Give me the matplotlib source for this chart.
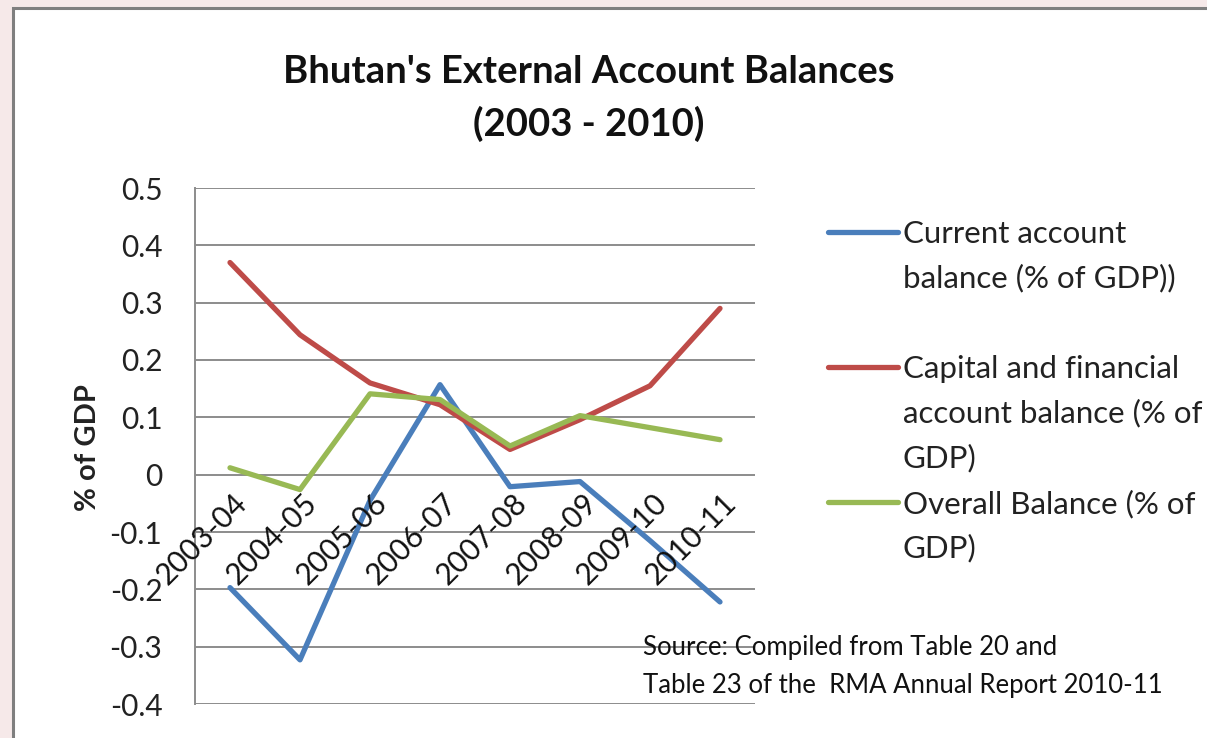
import matplotlib
matplotlib.use("Agg")
import matplotlib.pyplot as plt
from matplotlib.lines import Line2D
from matplotlib.patches import Rectangle
from matplotlib import transforms

# data, share of GDP
periods = ["2003-04", "2004-05", "2005-06", "2006-07",
           "2007-08", "2008-09", "2009-10", "2010-11"]
current_account = [-0.197, -0.323, -0.045, 0.157, -0.021, -0.012, -0.115, -0.222]
capital_financial = [0.370, 0.244, 0.160, 0.122, 0.044, 0.096, 0.155, 0.290]
overall_balance = [0.012, -0.026, 0.141, 0.131, 0.050, 0.103, 0.082, 0.061]

series_labels = [["Current account", "balance (% of GDP))"],
                 ["Capital and financial", "account balance (% of", "GDP)"],
                 ["Overall Balance (% of", "GDP)"]]
yticks = [0.5, 0.4, 0.3, 0.2, 0.1, 0, -0.1, -0.2, -0.3, -0.4]
ytick_labels = ["0.5", "0.4", "0.3", "0.2", "0.1", "0", "-0.1", "-0.2", "-0.3", "-0.4"]

BLUE = "#4a7ebb"
RED = "#be4b48"
GREEN = "#98b954"
GRID = "#8c8c8c"

plt.rcParams["font.family"] = ["Lato", "DejaVu Sans"]

W, H = 1207, 738
fig = plt.figure(figsize=(W / 100, H / 100), dpi=100)
fig.patch.set_facecolor("#f6e9e9")

# white chart area with grey frame
fig.add_artist(Rectangle((13 / W, -0.05), 1.2, 1 - 8 / H + 0.05,
                         transform=fig.transFigure, facecolor="white",
                         edgecolor="#7f7f7f", linewidth=2.2, zorder=0))

ax = fig.add_axes([195 / W, 1 - 704 / H, (755 - 195) / W, (704 - 188) / H])
ax.set_facecolor("none")

x = list(range(len(periods)))
ax.plot(x, current_account, color=BLUE, lw=3.8, solid_capstyle="round", zorder=3)
ax.plot(x, capital_financial, color=RED, lw=3.8, solid_capstyle="round", zorder=3)
ax.plot(x, overall_balance, color=GREEN, lw=3.8, solid_capstyle="round", zorder=3)

ax.set_xlim(-0.5, len(periods) - 0.5)
ax.set_ylim(-0.4, 0.5)
ax.set_yticks(yticks)
ax.set_yticklabels(ytick_labels, fontsize=21.5, color="#222222")
ax.tick_params(axis="y", length=0, pad=23.5)
ax.set_xticks([])
ax.yaxis.grid(True, color=GRID, lw=1.4)
ax.set_axisbelow(True)
for side in ["top", "right", "bottom"]:
    ax.spines[side].set_visible(False)
ax.spines["left"].set_color(GRID)
ax.spines["left"].set_linewidth(1.4)

# category labels hang off the zero line
lbl_tr = transforms.offset_copy(ax.transData, fig=fig, x=12, y=-24, units="dots")
for i, p in enumerate(periods):
    ax.text(i, 0, p, transform=lbl_tr, rotation=45, rotation_mode="anchor",
            ha="right", va="center", fontsize=21.5, color="#111111", zorder=4)

fig.text(88 / W, 1 - 448 / H, "% of GDP", rotation=90, ha="center", va="center",
         fontsize=21, fontweight="bold", color="#222222")

fig.text(589 / W, 1 - 72 / H, "Bhutan's External Account Balances",
         ha="center", va="center", fontsize=27.5, fontweight="bold", color="#111111")
fig.text(589 / W, 1 - 124 / H, "(2003 - 2010)",
         ha="center", va="center", fontsize=27.5, fontweight="bold", color="#111111")

# legend entries: handle sits level with the first text line
for color, lines, ly in zip([BLUE, RED, GREEN], series_labels, [232, 367, 502]):
    fig.add_artist(Line2D([828 / W, 898 / W], [1 - ly / H, 1 - ly / H],
                          color=color, lw=3.8, solid_capstyle="round",
                          transform=fig.transFigure))
    for k, line in enumerate(lines):
        fig.text(903 / W, 1 - (ly + 11 + 44.5 * k) / H, line, ha="left", va="baseline",
                 fontsize=22.5, color="#222222")

fig.text(643 / W, 1 - 648 / H, "Source: Compiled from Table 20 and",
         ha="left", va="center", fontsize=18.5, color="#111111")
fig.text(643 / W, 1 - 686 / H, "Table 23 of the  RMA Annual Report 2010-11",
         ha="left", va="center", fontsize=18.5, color="#111111")

fig.savefig("out.png", dpi=100, facecolor=fig.get_facecolor())
